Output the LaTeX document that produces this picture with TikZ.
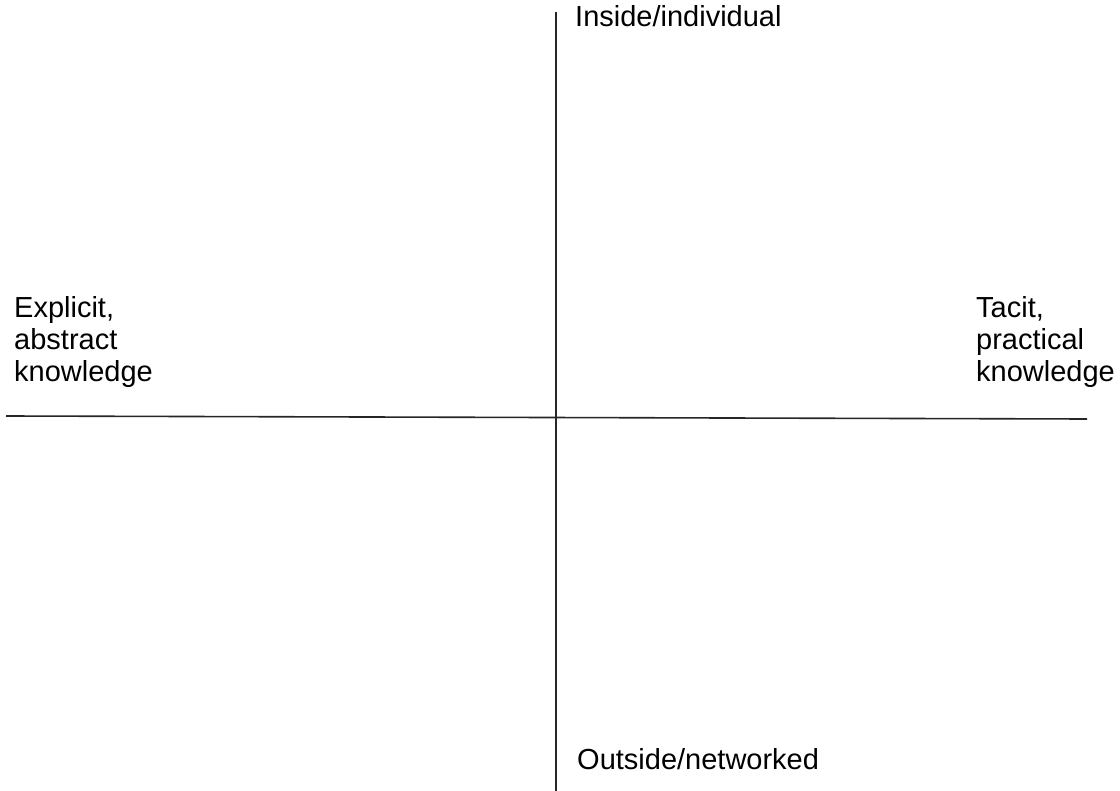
\documentclass[tikz,border=0pt]{standalone}
\usepackage{fontspec}
\setmainfont{Liberation Sans}
\usetikzlibrary{positioning}

\begin{document}
\begin{tikzpicture}[
    x=1pt, y=-1pt,
    axis/.style={line width=1.6pt, black!85},
    label/.style={inner sep=0pt, font=\fontsize{29}{32}\selectfont, align=left}
]
    \useasboundingbox (0,0) rectangle (1120,791);

    \coordinate (west) at (6,416);
    \coordinate (east) at (1087,419);
    \coordinate (top) at (556,12);
    \coordinate (bottom) at (556,791);

    \draw[axis] (west) -- (east);
    \draw[axis] (top) -- (bottom);

    \node[label, anchor=base west] (inside) at (575,27) {Inside/individual};
    \node[label, anchor=base west] (outside) at (577,769) {Outside/networked};
    \node[label, anchor=north west] (explicit) at (14,296) {Explicit,\\abstract\\knowledge};
    \node[label, anchor=north west] (tacit) at (976,296) {Tacit,\\practical\\knowledge};
\end{tikzpicture}
\end{document}
